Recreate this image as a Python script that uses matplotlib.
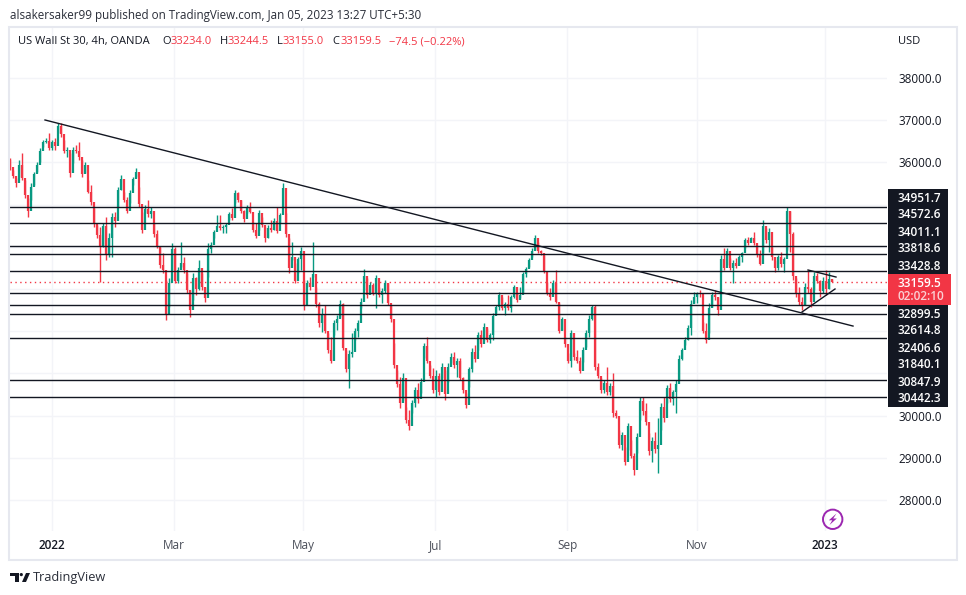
import matplotlib
matplotlib.use("Agg")
import matplotlib.pyplot as plt
from matplotlib.patches import Rectangle, Circle, Polygon

# candles, one per bar
highs = [36097,35820,35622,36057,36215,35583,35148,35504,35780,36018,36334,36531,36570,36689,36531,36570,36926,36942,36531,36373,
         36215,36373,36412,36491,36057,36018,35583,35464,34912,34516,34477,34556,34714,34319,34793,34832,35425,35701,35306,35188,
         35346,35662,35860,35425,34832,34990,35109,34951,34556,34398,34003,33845,33213,33253,34082,34003,33529,34122,33766,33371,
         32976,33371,33292,33687,33371,33055,34082,34122,34398,34754,34754,34517,34556,34832,34912,35346,35306,35109,34872,34990,
         35069,34596,34556,34872,34714,34477,34516,34635,34675,34951,34793,35504,34793,34200,34122,33608,33766,34003,33213,33213,
         33292,34122,33055,32699,32541,32620,31949,31870,32265,32384,32739,32660,31554,31554,31949,32067,32265,32778,33466,33253,
         33174,33134,33332,33055,33015,33213,33134,32620,31712,31080,30922,31001,30211,30132,30369,30685,30764,30882,31712,31870,
         31198,31119,31080,31001,31238,31080,31238,31475,31514,31356,31356,30922,30527,31159,31593,31672,31988,32028,32186,32067,
         31949,32423,32620,32936,32818,32699,32857,32857,33095,32897,33055,33410,33529,33726,33964,34279,34122,33924,33805,33174,
         33015,33213,33450,32660,32344,31870,31475,32028,31475,31554,31396,31633,32028,32384,32620,32620,31238,30882,30843,31159,
         30764,31001,30132,29658,29618,29263,29816,29421,29105,29579,30448,30448,30290,29579,29500,29618,29934,30290,30448,30724,
         30764,30606,30843,31436,31593,31870,32146,32739,32936,32936,32976,32225,32186,32660,32936,32976,32818,33806,33964,33964,
         33726,33687,33726,33806,33885,34200,34240,34240,34358,34042,33924,34635,34438,34438,34003,33687,33806,33885,33766,34951,
         34850,34358,33253,33055,32818,33134,33450,33055,33410,33371,33213,33292,33450,33410,33244.5]
lows = [35820,35622,35425,35662,35583,35148,34698,35109,35464,35780,36018,36373,36452,36294,36294,36294,36689,36610,36215,36136,
        35662,35978,36215,36057,35662,35741,35267,34990,34477,34200,33174,34003,33687,33766,33766,34477,34951,35346,35069,34793,
        35030,35464,35662,34951,34319,34793,34714,34675,34240,33964,33489,33371,32265,32581,33450,33134,33134,33529,33371,32897,
        32344,32739,32857,32976,32976,32700,33292,33845,34200,34477,34398,34319,34319,34635,34635,35030,35069,34793,34596,34793,
        34793,34358,34200,34398,34477,34122,34200,34358,34398,34319,34556,34951,34240,33371,33687,33134,33371,33450,32502,33055,
        32976,33292,32581,32107,31988,31949,31475,31238,31910,32028,32344,31554,31040,30645,31396,31791,31870,32541,32976,32778,
        32897,32857,32541,32818,32660,32897,32620,32226,31119,30685,30172,30369,29816,29658,30053,30211,30290,30527,31356,31238,
        30882,30527,30448,30487,30882,30369,30803,31238,31119,30922,30843,30527,30172,30685,31040,31277,31554,31633,31791,31751,
        31712,31791,32423,32502,32502,32384,32502,32463,32778,32699,32778,32897,33292,33529,33766,33924,33845,33805,33371,32857,
        32739,32897,32660,31949,32028,31633,31238,31159,31317,31238,31001,31277,31633,31870,32265,31080,30882,30527,30527,30487,
        30487,29974,29935,29224,29184,28829,29184,28987,28591,29105,29895,30013,29776,29066,28908,29105,28631,29658,29855,30290,
        30330,30250,30053,30843,31317,31673,31791,31910,32660,32660,32818,31949,31712,31949,32581,32739,32383,33410,33450,33568,
        33450,33134,33489,33568,33647,33964,34042,34161,34042,33766,33568,33845,34082,33885,33687,33410,33450,33529,33410,33924,
        33885,33213,32818,32620,32502,32620,32897,32581,32976,33134,32818,32897,32858,33000,33155]
closes = [35900,35680,35520,35950,35640,35230,34850,35420,35720,35950,36280,36480,36500,36350,36480,36400,36870,36680,36270,36300,
          35760,36300,36260,36120,35720,35950,35310,35060,34560,34280,34000,34500,33800,34200,34700,34600,35350,35600,35120,34850,
          35280,35600,35780,35020,34400,34900,34780,34850,34300,34020,33560,33450,32400,33150,33950,33200,33450,33620,33450,32980,
          32500,33250,33000,33500,33050,32780,33950,34050,34340,34500,34450,34480,34520,34780,34680,35280,35100,34850,34650,34950,
          34820,34400,34250,34800,34520,34200,34450,34400,34620,34380,34750,35400,34300,33500,33750,33200,33700,33900,32600,33150,
          33050,33350,32650,32200,32400,32000,31550,31300,32200,32300,32650,31600,31100,31450,31500,32000,32200,32700,33300,32850,
          33100,32900,33250,32850,32950,33150,32680,32300,31200,30750,30300,30900,29900,29750,30300,30600,30400,30800,31650,31300,
          30950,30600,30950,30550,31150,30500,31150,31400,31200,31300,30900,30600,30250,31100,31500,31350,31900,31700,32100,31800,
          31900,32350,32580,32850,32560,32650,32550,32800,33050,32750,32850,33350,33480,33680,33900,34200,33900,33850,33420,32900,
          32800,33150,32700,32000,32300,31700,31300,31950,31400,31300,31050,31550,31950,32300,32580,31150,30950,30600,30780,30550,
          30700,30050,30000,29300,29550,28900,29750,29050,28700,29500,30350,30100,29850,29150,29400,29200,29300,30200,29950,30650,
          30400,30550,30750,31350,31550,31800,32080,32650,32800,32900,32880,32000,31800,32550,32850,32800,32500,33700,33500,33900,
          33500,33620,33550,33750,33850,34150,34100,34200,34100,33800,33600,34500,34150,34350,33750,33500,33750,33600,33700,34850,
          34300,33300,32900,32700,32600,33050,33000,32700,33300,33200,32950,33200,33000,33234,33159.5]
first_open = 36050

level_prices = [34951.7, 34572.6, 34011.1, 33818.6, 33428.8, 32899.5, 32614.8, 32406.6, 31840.1, 30847.9, 30442.3]
level_labels = ["34951.7", "34572.6", "34011.1", "33818.6", "33428.8", "32899.5", "32614.8", "32406.6", "31840.1", "30847.9", "30442.3"]
level_label_y = [198, 215, 232, 249, 266, 314, 331, 348, 365, 382, 399]
last_price = 33159.5

price_ticks = list(range(28000, 39000, 1000))
hidden_ticks = [31000, 32000, 33000, 34000, 35000]  # under the dark label block
time_labels = ["2022", "Mar", "May", "Jul", "Sep", "Nov", "2023"]
time_bars = [14, 54.7, 97.7, 141.7, 185.7, 229, 271.7]

# trend lines as (bar, price) pairs
trend_main = ([11.67, 281], [37005, 32122])
trend_upper = ([266, 275.33], [33450, 33284])
trend_lower = ([264, 275], [32455, 33000])

GREEN = "#089981"
RED = "#f23645"
INK = "#131722"
GRID = "#f3f4f8"
FONT = "Open Sans"

plt.rcParams["font.family"] = FONT

fig = plt.figure(figsize=(9.66, 5.95), dpi=100, facecolor="white")

# chart pane: pixels 10..887 across, 27..531 down
ax = fig.add_axes([10 / 966, 1 - 531 / 595, 877 / 966, 504 / 595])
ax.set_xlim(0, 292.33)
ax.set_ylim(38000 - 453 * 23.697, 38000 + 51 * 23.697)

opens = [first_open] + closes[:-1]
bars = list(range(len(closes)))
colors = [GREEN if c >= o else RED for o, c in zip(opens, closes)]
ax.vlines(bars, lows, highs, colors=colors, linewidth=1.0, capstyle="butt", zorder=3)
ax.vlines(bars, [min(o, c) for o, c in zip(opens, closes)], [max(o, c) for o, c in zip(opens, closes)],
          colors=colors, linewidth=1.6, capstyle="butt", zorder=3)

for price in level_prices:
    ax.axhline(price, color=INK, linewidth=1.0, zorder=4)
ax.axhline(last_price, color=RED, linewidth=1.0, linestyle=(0, (1, 2.5)), zorder=2)

for line in (trend_main, trend_upper, trend_lower):
    ax.plot(line[0], line[1], color=INK, linewidth=1.0, zorder=5)

ax.set_yticks(price_ticks)
ax.set_yticklabels(["" if p in hidden_ticks else "%.1f" % p for p in price_ticks])
ax.yaxis.tick_right()
ax.set_xticks(time_bars)
ax.set_xticklabels(time_labels)
ax.tick_params(axis="both", length=0, labelsize=8.5, labelcolor=INK)
ax.tick_params(axis="y", pad=8)
ax.tick_params(axis="x", pad=6)
for label in ax.get_xticklabels():
    if label.get_text() in ("2022", "2023"):
        label.set_fontweight("semibold")
    else:
        label.set_color("#4a4e59")
ax.grid(True, color=GRID, linewidth=1.0)
ax.set_axisbelow(True)
for spine in ax.spines.values():
    spine.set_visible(False)

# everything around the chart, in picture pixels
over = fig.add_axes([0, 0, 1, 1], facecolor="none")
over.set_xlim(0, 966)
over.set_ylim(595, 0)
over.axis("off")

over.add_patch(Rectangle((9, 27), 947.5, 532.5, fill=False, edgecolor="#e6e8ef", linewidth=1.5))

over.text(10, 15, "alsakersaker99 published on TradingView.com, Jan 05, 2023 13:27 UTC+5:30",
          fontsize=8.35, color="#2a2e39", va="center", ha="left")
over.text(18, 41.5, "US Wall St 30, 4h, OANDA", fontsize=8.0, color=INK, va="center", ha="left")
for x, letter, value in [(162, "O", "33234.0"), (219.5, "H", "33244.5"), (276.5, "L", "33155.0"), (332, "C", "33159.5")]:
    over.text(x, 41.5, letter, fontsize=8.0, color=INK, va="center", ha="left")
    over.text(x + 8.5 if letter != "L" else x + 6, 41.5, value, fontsize=8.0, color=RED, va="center", ha="left")
over.text(389, 41.5, "\u221274.5 (\u22120.22%)", fontsize=8.0, color=RED, va="center", ha="left")
over.text(898, 41, "USD", fontsize=8.0, color=INK, va="center", ha="left")

over.add_patch(Rectangle((888, 189), 59.5, 217.5, facecolor=INK, edgecolor="none", zorder=5))
for text, y in zip(level_labels, level_label_y):
    over.text(898, y, text, fontsize=8.5, color="white", va="center", ha="left", fontweight="semibold", zorder=6)
over.add_patch(Rectangle((888, 274), 62.5, 31, facecolor=RED, edgecolor="none", zorder=7))
over.text(898, 283.5, "33159.5", fontsize=8.5, color="white", va="center", ha="left", fontweight="semibold", zorder=8)
over.text(898, 296.5, "02:02:10", fontsize=8.5, color="#fbd0d4", va="center", ha="left", fontweight="semibold", zorder=8)

# lightning badge
over.add_patch(Circle((832.7, 519.3), 9.7, fill=False, edgecolor="#9c27b0", linewidth=1.4))
over.add_patch(Polygon([(836.5, 513.5), (828.8, 520.3), (832.3, 520.3), (829.5, 525), (836.8, 518.5), (833.2, 518.5)],
                       closed=True, facecolor="#9c27b0", edgecolor="none"))

# TradingView mark
over.add_patch(Polygon([(10, 573), (19, 573), (19, 582), (14.5, 582), (14.5, 576), (10, 576)],
                       closed=True, facecolor=INK, edgecolor="none"))
over.add_patch(Circle((21.3, 574.6), 1.6, facecolor=INK, edgecolor="none"))
over.add_patch(Polygon([(30, 573), (26, 573), (22, 582), (26, 582)], closed=True, facecolor=INK, edgecolor="none"))
over.text(33, 578, "TradingView", fontsize=9.2, color="#2a2e39", va="center", ha="left")

fig.savefig("out.png", dpi=100)
